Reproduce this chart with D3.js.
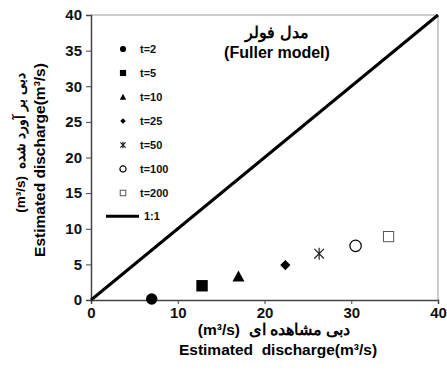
<!DOCTYPE html>
<html>
<head>
<meta charset="utf-8">
<script src="https://cdn.jsdelivr.net/npm/d3@7"></script>
<style>
  body { margin: 0; background: #fff; }
  text { font-family: "Liberation Sans", Arial, sans-serif; font-weight: bold; white-space: pre; }
</style>
</head>
<body>
<div id="chart"></div>
<script>
// return periods and observed / estimated discharge (m3/s)
const periods = ["t=2", "t=5", "t=10", "t=25", "t=50", "t=100", "t=200"];
const observed = [7.0, 12.8, 17.0, 22.4, 26.3, 30.5, 34.3];
const estimated = [0.15, 2.0, 3.3, 4.9, 6.5, 7.6, 8.9];
const symbols = ["circle", "square", "triangle", "diamond", "asterisk", "ocircle", "osquare"];
const xTicks = [0, 10, 20, 30, 40];
const yTicks = [0, 5, 10, 15, 20, 25, 30, 35, 40];

const W = 447, H = 371;
const margin = {top: 15, right: 9, bottom: 71, left: 91};
const width = W - margin.left - margin.right,
  height = H - margin.top - margin.bottom;

const svg = d3.select("#chart").append("svg")
  .attr("width", W).attr("height", H);
const g = svg.append("g")
  .attr("transform", "translate(" + margin.left + "," + margin.top + ")");

const x = d3.scaleLinear().domain([0, 40]).range([0, width]);
const y = d3.scaleLinear().domain([0, 40]).range([height, 0]);

// frame (top + right in grey)
g.append("path")
  .attr("d", `M0,0H${width}V${height}`)
  .attr("fill", "none").attr("stroke", "#999").attr("stroke-width", 1);

const xAxis = g.append("g")
  .attr("transform", "translate(0," + height + ")")
  .call(d3.axisBottom(x).tickValues(xTicks).tickSize(4).tickPadding(3));
const yAxis = g.append("g")
  .call(d3.axisLeft(y).tickValues(yTicks).tickSize(5).tickPadding(4));
[xAxis, yAxis].forEach(a => {
  a.select(".domain").attr("stroke", "#444").attr("stroke-width", 1.5);
  a.selectAll(".tick line").attr("stroke", "#444");
  a.selectAll(".tick text").attr("font-size", 15).attr("fill", "#111")
    .style("font-family", "Liberation Sans, Arial").style("font-weight", "bold");
});

// 1:1 line
g.append("line")
  .attr("x1", x(0)).attr("y1", y(0)).attr("x2", x(40)).attr("y2", y(40))
  .attr("stroke", "#000").attr("stroke-width", 3);

function drawMark(sel, kind, s) {
  const r = s / 2;
  if (kind === "circle" || kind === "ocircle") {
    sel.append("circle").attr("r", r * 0.95)
      .attr("fill", kind === "circle" ? "#000" : "#fff")
      .attr("stroke", "#000").attr("stroke-width", kind === "circle" ? 0 : 1.2);
  } else if (kind === "square" || kind === "osquare") {
    const q = kind === "square" ? r * 0.95 : r * 0.85;
    sel.append("rect").attr("x", -q).attr("y", -q).attr("width", 2 * q).attr("height", 2 * q)
      .attr("fill", kind === "square" ? "#000" : "#fff")
      .attr("stroke", kind === "square" ? "none" : "#555").attr("stroke-width", 1);
  } else if (kind === "triangle") {
    sel.append("path").attr("d", `M0,${-r}L${r},${r * 0.85}L${-r},${r * 0.85}Z`).attr("fill", "#000");
  } else if (kind === "diamond") {
    const d = r * 0.85;
    sel.append("path").attr("d", `M0,${-d}L${d},0L0,${d}L${-d},0Z`).attr("fill", "#000");
  } else if (kind === "asterisk") {
    const d = r * 0.8;
    sel.append("path")
      .attr("d", `M${-d},${-d}L${d},${d}M${d},${-d}L${-d},${d}M0,${-r}V${r}`)
      .attr("stroke", "#222").attr("stroke-width", 1.2);
  }
}

// data points
observed.forEach((v, i) => {
  const p = g.append("g").attr("transform", `translate(${x(v)},${y(estimated[i])})`);
  drawMark(p, symbols[i], 12);
});

// legend
const lg = svg.append("g");
periods.forEach((t, i) => {
  const row = lg.append("g").attr("transform", `translate(123,${49 + i * 24})`);
  drawMark(row, symbols[i], 6.5);
  row.append("text").attr("x", 17).attr("dy", "0.35em").attr("font-size", 11).attr("fill", "#111").text(t);
});
const lrow = lg.append("g").attr("transform", `translate(0,${49 + 7 * 23.9})`);
lrow.append("line").attr("x1", 106).attr("x2", 139).attr("stroke", "#000").attr("stroke-width", 3);
lrow.append("text").attr("x", 144).attr("dy", "0.35em").attr("font-size", 11).attr("fill", "#111").text("1:1");

// title
svg.append("text").attr("x", 277).attr("y", 38).attr("text-anchor", "middle")
  .attr("font-size", 16).text("مدل فولر");
svg.append("text").attr("x", 277).attr("y", 58).attr("text-anchor", "middle")
  .attr("font-size", 16).text("(Fuller model)");

// x axis labels
svg.append("text").attr("x", 274).attr("y", 335).attr("text-anchor", "middle")
  .attr("font-size", 15.5).text("(m³/s)  دبی مشاهده ای");
svg.append("text").attr("x", 278).attr("y", 355).attr("text-anchor", "middle")
  .attr("font-size", 15.5).text("Estimated  discharge(m³/s)");

// y axis labels
svg.append("text").attr("transform", "translate(25,143) rotate(-90)").attr("text-anchor", "middle")
  .attr("font-size", 13.5).text("(m³/s)  دبی بر آورد شده");
svg.append("text").attr("transform", "translate(45,160) rotate(-90)").attr("text-anchor", "middle")
  .attr("font-size", 15.5).text("Estimated discharge(m³/s)");
</script>
</body>
</html>
